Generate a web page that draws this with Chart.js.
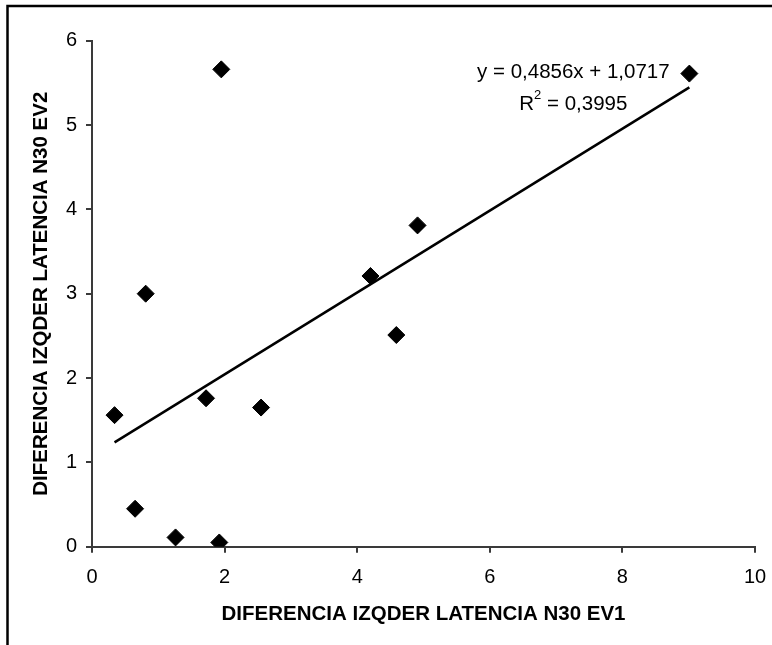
<!DOCTYPE html>
<html>
<head>
<meta charset="utf-8">
<script src="https://cdn.jsdelivr.net/npm/chart.js@4/dist/chart.umd.min.js"></script>
<style>
   html, body { margin: 0; padding: 0; background: #fff; }
   #wrap { width: 772px; height: 645px; }
</style>
</head>
<body>
<div id="wrap"><canvas id="scatter" width="772" height="645"></canvas></div>
<script>
// values
const evX = [0.34, 0.65, 0.81, 1.26, 1.72, 1.92, 1.95, 2.55, 4.20, 4.59, 4.91, 9.01];
const evY = [1.56, 0.45, 3.00, 0.11, 1.76, 0.05, 5.66, 1.65, 3.21, 2.51, 3.81, 5.61];

// trendline as printed on the chart
const trendSlope = 0.4856;
const trendIntercept = 1.0717;
const trendLabel = "y = 0,4856x + 1,0717";
const r2Value = "0,3995";

const xTitle = "DIFERENCIA IZQDER LATENCIA N30 EV1";
const yTitle = "DIFERENCIA IZQDER LATENCIA N30 EV2";

const FONT = "'Liberation Sans', Arial, sans-serif";
const AXIS = "#3a3a3a";

const points = evX.map((x, i) => ({ x: x, y: evY[i] }));
const xMin = Math.min(...evX);
const xMax = Math.max(...evX);
const trend = [
   { x: xMin, y: trendSlope * xMin + trendIntercept },
   { x: xMax, y: trendSlope * xMax + trendIntercept },
];

// outer frame + trendline text
const extras = {
   id: "extras",
   beforeDraw(chart) {
      const ctx = chart.ctx;
      ctx.save();
      ctx.fillStyle = "#fff";
      ctx.fillRect(0, 0, chart.width, chart.height);
      ctx.strokeStyle = "#000";
      ctx.lineWidth = 2.5;
      ctx.beginPath();
      ctx.moveTo(7.5, chart.height);
      ctx.lineTo(7.5, 6);
      ctx.lineTo(chart.width, 6);
      ctx.stroke();
      ctx.restore();
   },
   afterDraw(chart) {
      const ctx = chart.ctx;
      const xs = chart.scales.x;
      const ys = chart.scales.y;
      const cx = xs.getPixelForValue(7.26);
      ctx.save();
      ctx.fillStyle = "#000";
      ctx.textBaseline = "middle";
      ctx.textAlign = "center";
      ctx.font = "20.5px " + FONT;
      ctx.fillText(trendLabel, cx, ys.getPixelForValue(5.62));

      // R² line, centred under the equation
      const yR = ys.getPixelForValue(5.25);
      const rest = " = " + r2Value;
      const wR = ctx.measureText("R").width;
      const wRest = ctx.measureText(rest).width;
      ctx.font = "13px " + FONT;
      const wSup = ctx.measureText("2").width;
      const start = cx - (wR + wSup + wRest) / 2;
      ctx.textAlign = "left";
      ctx.font = "20.5px " + FONT;
      ctx.fillText("R", start, yR);
      ctx.fillText(rest, start + wR + wSup, yR);
      ctx.font = "13px " + FONT;
      ctx.fillText("2", start + wR, yR - 9);
      ctx.restore();
   },
};

new Chart(document.getElementById("scatter"), {
   type: "scatter",
   data: {
      datasets: [
         {
            label: "EV",
            data: points,
            pointStyle: "rectRot",
            pointRadius: 8.5,
            pointHoverRadius: 8.5,
            backgroundColor: "#000",
            borderColor: "#000",
            borderWidth: 1,
            order: 1,
         },
         {
            type: "line",
            label: "Lineal",
            data: trend,
            borderColor: "#000",
            borderWidth: 2.5,
            pointRadius: 0,
            fill: false,
            order: 2,
         },
      ],
   },
   options: {
      responsive: false,
      animation: false,
      devicePixelRatio: 1,
      layout: { padding: { left: 0, top: 40.7, right: 17, bottom: 0 } },
      plugins: {
         legend: { display: false },
         tooltip: { enabled: false },
      },
      scales: {
         x: {
            type: "linear",
            min: 0,
            max: 10,
            afterFit: (scale) => {
               scale.height = 98.3;
               scale.paddingLeft = 0;
               scale.paddingRight = 0;
            },
            ticks: { stepSize: 2, color: "#000", padding: 13, maxRotation: 0, font: { family: FONT, size: 20 } },
            grid: { drawOnChartArea: false, drawTicks: true, tickLength: 6, color: AXIS, lineWidth: 2 },
            border: { display: true, color: AXIS, width: 2 },
            title: {
               display: true,
               text: xTitle,
               color: "#000",
               padding: { top: 0, bottom: 18.7 },
               font: { family: FONT, size: 20.5, weight: "bold" },
            },
         },
         y: {
            type: "linear",
            min: 0,
            max: 6,
            afterFit: (scale) => { scale.width = 92; },
            ticks: { stepSize: 1, color: "#000", padding: 9, font: { family: FONT, size: 20 } },
            grid: { drawOnChartArea: false, drawTicks: true, tickLength: 6, color: AXIS, lineWidth: 2 },
            border: { display: true, color: AXIS, width: 2 },
            title: {
               display: true,
               text: yTitle,
               color: "#000",
               padding: { top: 28.7, bottom: 0 },
               font: { family: FONT, size: 20.5, weight: "bold" },
            },
         },
      },
   },
   plugins: [extras],
});
</script>
</body>
</html>
